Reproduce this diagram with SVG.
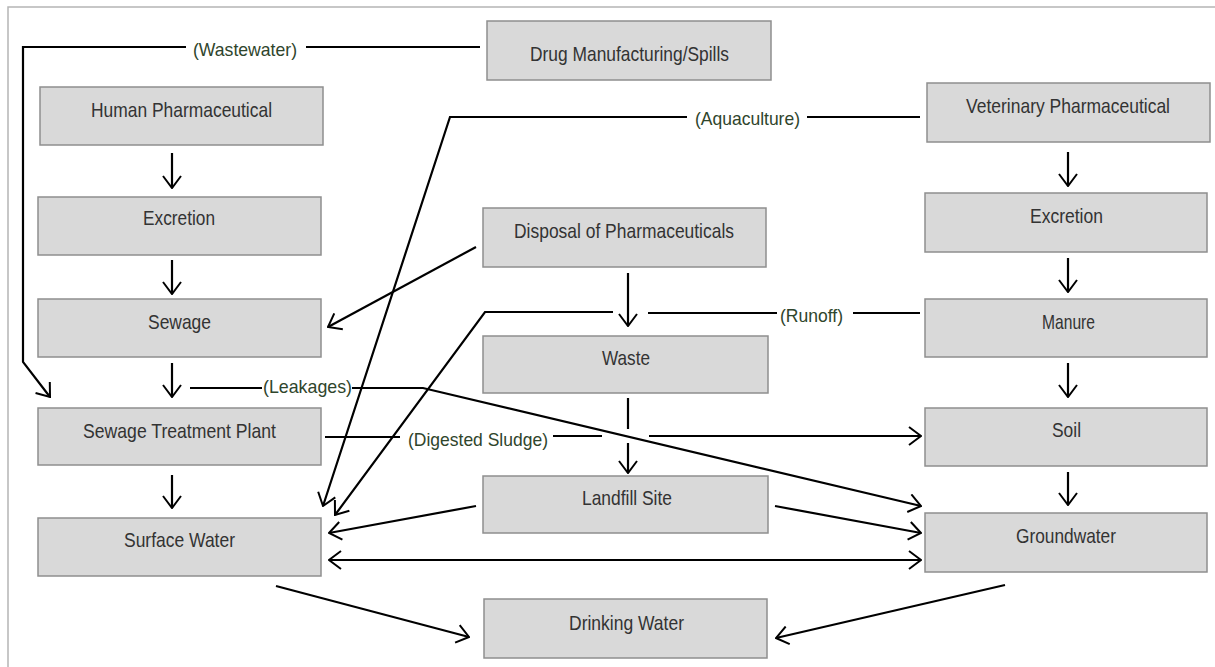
<svg xmlns="http://www.w3.org/2000/svg" width="1215" height="667" viewBox="0 0 1215 667">
<style>
.box{fill:#d9d9d9;stroke:#8e8e8e;stroke-width:1.5}
.t{font-family:"Liberation Sans",Arial,sans-serif;font-size:21px;fill:#333;text-anchor:middle}
.lbl{font-family:"Liberation Sans",Arial,sans-serif;font-size:19px;fill:#2f452c;text-anchor:middle}
.ln{fill:none;stroke:#000;stroke-width:2.2}
.ar{fill:none;stroke:#000;stroke-width:2.2;marker-end:url(#ah)}
.frame{fill:none;stroke:#b5b5b5;stroke-width:1.5}
</style>
<defs>
<marker id="ah" markerUnits="userSpaceOnUse" viewBox="0 0 14 20" refX="13" refY="10" markerWidth="14" markerHeight="20" orient="auto-start-reverse">
<path d="M1,1 L13,10 L1,19" fill="none" stroke="#000" stroke-width="2"/>
</marker>
</defs>
<rect width="1215" height="667" fill="#fff"/>
<path class="frame" d="M8,667 V7 H1215"/>

<g id="connectors">
<path class="ln" d="M480,47 H306"/>
<path class="ar" d="M186,47 H23 V362 L50,397"/>
<path class="ln" d="M920,117 H807"/>
<path class="ar" d="M687,117 H450 L323,506"/>
<path class="ar" d="M476,247 L328,327"/>
<path class="ln" d="M920,313 H853"/>
<path class="ln" d="M777,313 H648"/>
<path class="ar" d="M613,312 H485 L335,515"/>
<path class="ar" d="M628,273 V326"/>
<path class="ln" d="M190,388 H262"/>
<path class="ar" d="M352,388 H423 L921,506"/>
<path class="ln" d="M325,437 H400"/>
<path class="ln" d="M553,436 H602"/>
<path class="ar" d="M649,436 H921"/>
<path class="ln" d="M628,398 V429"/>
<path class="ar" d="M628,443 V473"/>
<path class="ar" d="M476,506 L329,533"/>
<path class="ar" d="M775,506 L921,533"/>
<path class="ar" style="marker-start:url(#ah)" d="M329,560 H921"/>
<path class="ar" d="M276,586 L469,637"/>
<path class="ar" d="M1005,585 L776,638"/>
<path class="ar" d="M172,153 V188"/>
<path class="ar" d="M172,260 V294"/>
<path class="ar" d="M172,363 V397"/>
<path class="ar" d="M172,475 V508"/>
<path class="ar" d="M1068,152 V186"/>
<path class="ar" d="M1068,258 V292"/>
<path class="ar" d="M1068,363 V397"/>
<path class="ar" d="M1068,472 V505"/>
<text class="lbl" x="245" y="56" textLength="104" lengthAdjust="spacingAndGlyphs">(Wastewater)</text>
<text class="lbl" x="747.5" y="125" textLength="105" lengthAdjust="spacingAndGlyphs">(Aquaculture)</text>
<text class="lbl" x="811.5" y="322" textLength="63" lengthAdjust="spacingAndGlyphs">(Runoff)</text>
<text class="lbl" x="307.5" y="393" textLength="89" lengthAdjust="spacingAndGlyphs">(Leakages)</text>
<text class="lbl" x="478" y="446" textLength="140" lengthAdjust="spacingAndGlyphs">(Digested Sludge)</text>
</g>

<g id="drug-manufacturing"><rect class="box" x="487" y="21" width="284" height="59"/><text class="t" x="629.5" y="61" textLength="199" lengthAdjust="spacingAndGlyphs">Drug Manufacturing/Spills</text></g>
<g id="human-pharmaceutical"><rect class="box" x="40" y="87" width="283" height="58"/><text class="t" x="181.5" y="117" textLength="181" lengthAdjust="spacingAndGlyphs">Human Pharmaceutical</text></g>
<g id="veterinary-pharmaceutical"><rect class="box" x="927" y="83" width="283" height="59"/><text class="t" x="1068" y="113" textLength="204" lengthAdjust="spacingAndGlyphs">Veterinary Pharmaceutical</text></g>
<g id="excretion-human"><rect class="box" x="38" y="197" width="283" height="58"/><text class="t" x="179" y="225" textLength="72" lengthAdjust="spacingAndGlyphs">Excretion</text></g>
<g id="sewage"><rect class="box" x="38" y="299" width="283" height="58"/><text class="t" x="179.5" y="329" textLength="63" lengthAdjust="spacingAndGlyphs">Sewage</text></g>
<g id="sewage-treatment-plant"><rect class="box" x="38" y="408" width="283" height="57"/><text class="t" x="179.5" y="438" textLength="193" lengthAdjust="spacingAndGlyphs">Sewage Treatment Plant</text></g>
<g id="surface-water"><rect class="box" x="38" y="518" width="283" height="58"/><text class="t" x="179.5" y="547" textLength="111" lengthAdjust="spacingAndGlyphs">Surface Water</text></g>
<g id="disposal"><rect class="box" x="483" y="208" width="283" height="59"/><text class="t" x="624" y="238" textLength="220" lengthAdjust="spacingAndGlyphs">Disposal of Pharmaceuticals</text></g>
<g id="waste"><rect class="box" x="483" y="336" width="285" height="57"/><text class="t" x="626" y="365" textLength="48" lengthAdjust="spacingAndGlyphs">Waste</text></g>
<g id="landfill-site"><rect class="box" x="483" y="476" width="285" height="57"/><text class="t" x="627" y="505" textLength="90" lengthAdjust="spacingAndGlyphs">Landfill Site</text></g>
<g id="drinking-water"><rect class="box" x="484" y="599" width="283" height="59"/><text class="t" x="626.5" y="630" textLength="115" lengthAdjust="spacingAndGlyphs">Drinking Water</text></g>
<g id="excretion-veterinary"><rect class="box" x="925" y="193" width="282" height="59"/><text class="t" x="1066.5" y="223" textLength="73" lengthAdjust="spacingAndGlyphs">Excretion</text></g>
<g id="manure"><rect class="box" x="925" y="299" width="282" height="58"/><text class="t" x="1068.5" y="329" textLength="53" lengthAdjust="spacingAndGlyphs">Manure</text></g>
<g id="soil"><rect class="box" x="925" y="408" width="282" height="58"/><text class="t" x="1066.5" y="437" textLength="29" lengthAdjust="spacingAndGlyphs">Soil</text></g>
<g id="groundwater"><rect class="box" x="925" y="513" width="282" height="59"/><text class="t" x="1066" y="543" textLength="100" lengthAdjust="spacingAndGlyphs">Groundwater</text></g>
</svg>
